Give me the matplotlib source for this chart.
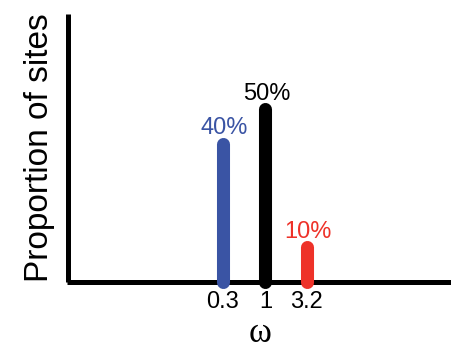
import matplotlib
matplotlib.use("Agg")
import matplotlib.pyplot as plt

omega = [0.3, 1.0, 3.2]
props = [0.40, 0.50, 0.10]
labels = ["40%", "50%", "10%"]
tick_labels = ["0.3", "1", "3.2"]
colors = ["#3a54a4", "#000000", "#ee3229"]

plt.rcParams['font.family'] = ['Liberation Sans', 'DejaVu Sans']

fig = plt.figure(figsize=(4.52, 3.52), dpi=100)
ax = fig.add_axes([67.5/452, 70.5/352, (452-67.5)/452, 268/352])
ax.set_xscale('log')
ax.set_xlim(10**(-197.7/82), 10**(186.3/82))
ax.set_ylim(0, 0.777)

for x, p, lab, c in zip(omega, props, labels, colors):
    ax.plot([x, x], [0, p], color=c, lw=9.4, solid_capstyle='round', clip_on=False, zorder=3)
    ax.text(x * 1.04, p + 0.027, lab, color=c, ha='center', va='baseline', fontsize=17)

for s in ['top', 'right']:
    ax.spines[s].set_visible(False)
for s in ['left', 'bottom']:
    ax.spines[s].set_linewidth(3.6)
    ax.spines[s].set_capstyle('butt')
ax.set_yticks([])
ax.set_xticks(omega)
ax.set_xticklabels(tick_labels, fontsize=17)
ax.minorticks_off()
ax.tick_params(axis='x', length=0, pad=7)
ax.set_ylabel("Proportion of sites", fontsize=24, labelpad=9)
ax.set_xlabel("ω", fontsize=25, family=['Liberation Serif', 'DejaVu Serif'], labelpad=3)

fig.savefig("out.png", dpi=100)
